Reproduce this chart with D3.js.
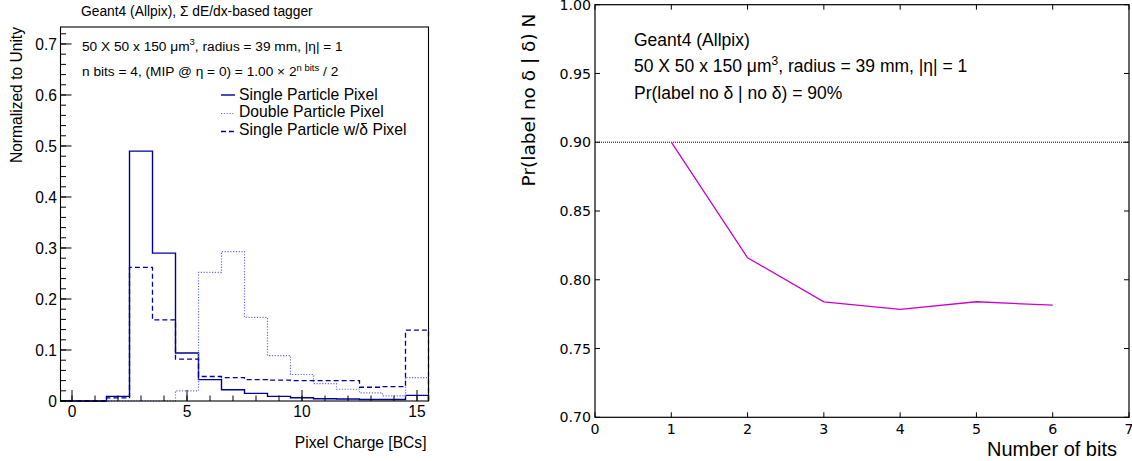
<!DOCTYPE html>
<html><head><meta charset="utf-8">
<script src="https://cdn.jsdelivr.net/npm/d3@7"></script>
<style>
html,body{margin:0;padding:0;background:#fff;}
svg{display:block;}
.helv{font-family:"Liberation Sans",Arial,Helvetica,sans-serif;}
.dv{font-family:"DejaVu Sans",sans-serif;}
</style></head>
<body><svg id="c" width="1132" height="461"></svg>
<script>
// ---------- data: left histogram ----------
const chargeBins = [0,1,2,3,4,5,6,7,8,9,10,11,12,13,14,15];
const singleParticle = [0, 0, 0.009, 0.490, 0.290, 0.094, 0.042, 0.022, 0.015, 0.009, 0.0065, 0.0045, 0.004, 0.003, 0.003, 0.011];
const doubleParticle = [0, 0, 0, 0, 0, 0.020, 0.252, 0.293, 0.164, 0.089, 0.052, 0.034, 0.023, 0.016, 0.010, 0.046];
const singleDelta    = [0, 0, 0.006, 0.262, 0.159, 0.082, 0.048, 0.046, 0.042, 0.041, 0.040, 0.040, 0.040, 0.027, 0.028, 0.139];
const seriesNames = ["Single Particle Pixel", "Double Particle Pixel", "Single Particle w/\u03b4 Pixel"];
const xTicksLeft = [0, 5, 10, 15];
const yTicksLeft = [0, 0.1, 0.2, 0.3, 0.4, 0.5, 0.6, 0.7];
const yTickLabelsLeft = ["0", "0.1", "0.2", "0.3", "0.4", "0.5", "0.6", "0.7"];

// ---------- data: right line chart ----------
const nBits = [1, 2, 3, 4, 5, 6];
const prNoDelta = [0.900, 0.816, 0.784, 0.7785, 0.784, 0.7815];
const targetLevel = 0.90;
const xTicksRight = [0, 1, 2, 3, 4, 5, 6, 7];
const yTicksRight = [0.70, 0.75, 0.80, 0.85, 0.90, 0.95, 1.00];

const svg = d3.select("#c");

// =============== LEFT PANEL ===============
const L = {x0: 60.5, x1: 428.5, y0: 27, y1: 401};
const xL = d3.scaleLinear().domain([-0.5, 15.5]).range([L.x0, L.x1]);
const yL = d3.scaleLinear().domain([0, 0.7333]).range([L.y1, L.y0]);
const gL = svg.append("g").attr("class", "helv");

function stepPath(vals) {
  const pts = [[-0.5, 0]];
  vals.forEach((v, i) => { const c = chargeBins[i]; pts.push([c - 0.5, v]); pts.push([c + 0.5, v]); });
  pts.push([15.5, 0]);
  return d3.line().x(d => xL(d[0])).y(d => yL(d[1]))(pts);
}
const styles = [
  {vals: singleParticle, color: "#000099", dash: null, w: 1.4},
  {vals: doubleParticle, color: "#6a6ade", dash: "1.2,1.6", w: 1.2},
  {vals: singleDelta, color: "#000099", dash: "5,3", w: 1.3}
];
styles.forEach(s => {
  gL.append("path").attr("d", stepPath(s.vals)).attr("fill", "none")
    .attr("stroke", s.color).attr("stroke-width", s.w)
    .attr("stroke-dasharray", s.dash);
});

// frame
gL.append("rect").attr("x", L.x0).attr("y", L.y0).attr("width", L.x1 - L.x0).attr("height", L.y1 - L.y0)
  .attr("fill", "none").attr("stroke", "#000").attr("stroke-width", 1.1);

// y ticks
const yMinorL = d3.range(0, 0.7301, 0.02);
gL.selectAll(".ymn").data(yMinorL).enter().append("line")
  .attr("x1", L.x0).attr("x2", L.x0 + 5.5).attr("y1", d => yL(d)).attr("y2", d => yL(d))
  .attr("stroke", "#000").attr("stroke-width", 1);
gL.selectAll(".ymj").data(yTicksLeft).enter().append("line")
  .attr("x1", L.x0).attr("x2", L.x0 + 11).attr("y1", d => yL(d)).attr("y2", d => yL(d))
  .attr("stroke", "#000").attr("stroke-width", 1);
gL.selectAll(".ylb").data(yTicksLeft).enter().append("text")
  .attr("x", 57).attr("y", d => yL(d)).attr("dy", "0.36em").attr("text-anchor", "end")
  .attr("font-size", 15.6).text((d, i) => yTickLabelsLeft[i]);

// x ticks
gL.selectAll(".xmn").data(chargeBins).enter().append("line")
  .attr("x1", d => xL(d)).attr("x2", d => xL(d)).attr("y1", L.y1).attr("y2", L.y1 - 5.5)
  .attr("stroke", "#000").attr("stroke-width", 1);
gL.selectAll(".xmj").data(xTicksLeft).enter().append("line")
  .attr("x1", d => xL(d)).attr("x2", d => xL(d)).attr("y1", L.y1).attr("y2", L.y1 - 11)
  .attr("stroke", "#000").attr("stroke-width", 1);
gL.selectAll(".xlb").data(xTicksLeft).enter().append("text")
  .attr("x", d => xL(d)).attr("y", 417).attr("text-anchor", "middle")
  .attr("font-size", 15.6).text(d => d);

// axis titles
gL.append("text").attr("x", 426.5).attr("y", 448).attr("text-anchor", "end")
  .attr("font-size", 15.6).text("Pixel Charge [BCs]");
gL.append("text").attr("transform", "translate(22,27) rotate(-90)").attr("text-anchor", "end")
  .attr("font-size", 15.6).text("Normalized to Unity");

// title & annotations
gL.append("text").attr("x", 81).attr("y", 16).attr("font-size", 13.8)
  .text("Geant4 (Allpix), \u03a3 dE/dx-based tagger");
const t1 = gL.append("text").attr("x", 82).attr("y", 50.5).attr("font-size", 13.7);
t1.append("tspan").text("50 X 50 x 150 \u03bcm");
t1.append("tspan").attr("font-size", 9.5).attr("dy", -5.5).text("3");
t1.append("tspan").attr("dy", 5.5).text(", radius = 39 mm, |\u03b7| = 1");
const t2 = gL.append("text").attr("x", 82).attr("y", 76).attr("font-size", 13.7);
t2.append("tspan").text("n bits = 4, (MIP @ \u03b7 = 0) = 1.00 \u00d7 2");
t2.append("tspan").attr("font-size", 9.5).attr("dy", -5.5).text("n bits");
t2.append("tspan").attr("dy", 5.5).text(" / 2");

// legend
const legY = [99.5, 117, 134.8];
const legLineY = [95, 113.5, 131.5];
styles.forEach((s, i) => {
  gL.append("line").attr("x1", 221).attr("x2", 235).attr("y1", legLineY[i]).attr("y2", legLineY[i])
    .attr("stroke", s.color).attr("stroke-width", s.w).attr("stroke-dasharray", s.dash);
  gL.append("text").attr("x", 239).attr("y", legY[i]).attr("font-size", 15.7).text(seriesNames[i]);
});

// =============== RIGHT PANEL ===============
const R = {x0: 595, x1: 1129, y0: 4.7, y1: 417.3};
const xR = d3.scaleLinear().domain([0, 7]).range([R.x0, R.x1]);
const yR = d3.scaleLinear().domain([0.70, 1.00]).range([R.y1, R.y0]);
const gR = svg.append("g");

// target dotted line
gR.append("line").attr("x1", R.x0).attr("x2", R.x1).attr("y1", yR(targetLevel)).attr("y2", yR(targetLevel))
  .attr("stroke", "#000").attr("stroke-width", 1).attr("stroke-dasharray", "1,1");

// data line
gR.append("path").datum(nBits.map((b, i) => [b, prNoDelta[i]]))
  .attr("d", d3.line().x(d => xR(d[0])).y(d => yR(d[1])))
  .attr("fill", "none").attr("stroke", "#cc00cc").attr("stroke-width", 1.3);

// frame
gR.append("rect").attr("x", R.x0).attr("y", R.y0).attr("width", R.x1 - R.x0).attr("height", R.y1 - R.y0)
  .attr("fill", "none").attr("stroke", "#000").attr("stroke-width", 1.2);

// ticks (inward on all four sides)
const tl = 5;
xTicksRight.forEach(t => {
  gR.append("line").attr("x1", xR(t)).attr("x2", xR(t)).attr("y1", R.y1).attr("y2", R.y1 - tl).attr("stroke", "#000");
  gR.append("line").attr("x1", xR(t)).attr("x2", xR(t)).attr("y1", R.y0).attr("y2", R.y0 + tl).attr("stroke", "#000");
});
yTicksRight.forEach(t => {
  gR.append("line").attr("x1", R.x0).attr("x2", R.x0 + tl).attr("y1", yR(t)).attr("y2", yR(t)).attr("stroke", "#000");
  gR.append("line").attr("x1", R.x1).attr("x2", R.x1 - tl).attr("y1", yR(t)).attr("y2", yR(t)).attr("stroke", "#000");
});
gR.selectAll(".xl").data(xTicksRight).enter().append("text").attr("class", "dv")
  .attr("x", d => xR(d)).attr("y", 433.5).attr("text-anchor", "middle").attr("font-size", 14.2)
  .text(d => d);
gR.selectAll(".yl").data(yTicksRight).enter().append("text").attr("class", "dv")
  .attr("x", 591).attr("y", d => yR(d)).attr("dy", "0.36em").attr("text-anchor", "end").attr("font-size", 14.2)
  .text(d => d3.format(".2f")(d));

// axis titles
gR.append("text").attr("class", "helv").attr("x", 1117).attr("y", 456).attr("text-anchor", "end")
  .attr("font-size", 20).text("Number of bits");
gR.append("text").attr("class", "dv").attr("transform", "translate(535,100) rotate(-90)").attr("text-anchor", "middle")
  .attr("font-size", 18.5).text("Pr(label no \u03b4 | \u03b4) N");

// annotations
const ra = gR.append("g").attr("class", "helv");
ra.append("text").attr("x", 634).attr("y", 45.7).attr("font-size", 17.5).text("Geant4 (Allpix)");
const r2 = ra.append("text").attr("x", 634).attr("y", 71.7).attr("font-size", 17.5);
r2.append("tspan").text("50 X 50 x 150 \u03bcm");
r2.append("tspan").attr("font-size", 12).attr("dy", -7).text("3");
r2.append("tspan").attr("dy", 7).text(", radius = 39 mm, |\u03b7| = 1");
ra.append("text").attr("x", 634).attr("y", 99).attr("font-size", 17.5).text("Pr(label no \u03b4 | no \u03b4) = 90%");
</script></body></html>
